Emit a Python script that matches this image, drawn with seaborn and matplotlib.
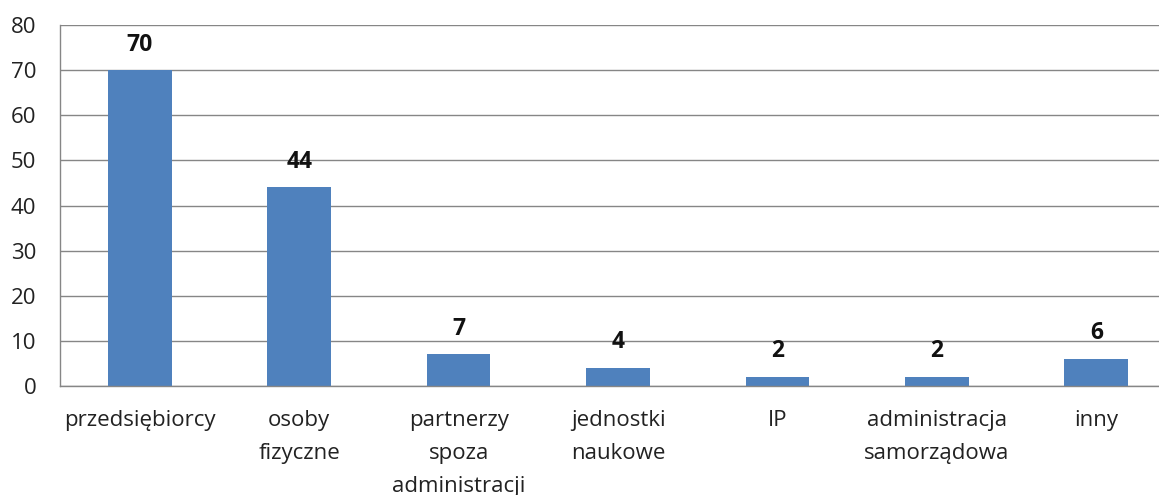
import pandas as pd
import numpy as np
import seaborn as sns
import matplotlib.pyplot as plt

# data
categories = ["przedsiębiorcy", "osoby\nfizyczne", "partnerzy\nspoza\nadministracji",
              "jednostki\nnaukowe", "IP", "administracja\nsamorządowa", "inny"]
values = [70, 44, 7, 4, 2, 2, 6]

df = pd.DataFrame({"kategoria": categories, "liczba": values})

sns.set_style("white")
plt.rcParams['font.family'] = ['Open Sans', 'DejaVu Sans']

fig = plt.figure(figsize=(11.59, 4.95), dpi=100)
# the plot area runs past the right edge of the picture, as in the reference
ax = fig.add_axes([60 / 1159, (495 - 386) / 495, 1116 / 1159, 361 / 495])

sns.barplot(data=df, x="kategoria", y="liczba", color="#4F81BD", width=0.4,
            saturation=1, linewidth=0, ax=ax)

ax.set_ylim(0, 80)
ax.set_xlim(-0.5, len(categories) - 0.5)
ax.set_yticks(np.arange(0, 81, 10))
ax.yaxis.grid(True, color="#868686", linewidth=1)
ax.set_axisbelow(True)
ax.set_xlabel("")
ax.set_ylabel("")

for s in ["top", "right"]:
    ax.spines[s].set_visible(False)
for s in ["left", "bottom"]:
    ax.spines[s].set_color("#868686")
    ax.spines[s].set_linewidth(1)

# tick marks between categories, labels under the bars
ax.set_xticks(np.arange(-0.5, len(categories), 1), minor=True)
ax.tick_params(axis="x", which="major", length=0, pad=17, labelsize=16,
               labelcolor="#222222")
ax.tick_params(axis="x", which="minor", length=5, color="#868686", direction="out")
ax.tick_params(axis="y", length=6, color="#868686", direction="out", labelsize=16,
               labelcolor="#222222", pad=11)
for lbl in ax.get_xticklabels():
    lbl.set_linespacing(1.75)
    lbl.set_verticalalignment("top")

for i, v in enumerate(values):
    ax.text(i, v + 3.0, str(v), ha="center", va="bottom", fontsize=16.5,
            fontweight="bold", color="#111111")

plt.savefig("out.png", dpi=100)
